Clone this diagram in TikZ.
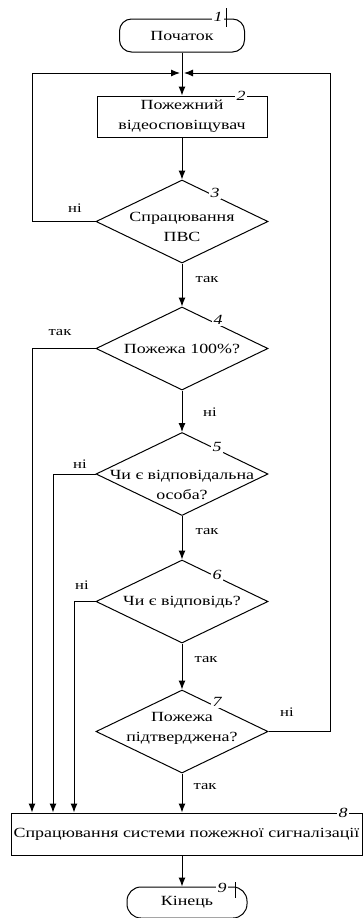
\documentclass[tikz,border=0pt]{standalone}
\usepackage{fontspec}
\setmainfont{Liberation Serif}[FakeStretch=1.28]
\usetikzlibrary{shapes.geometric,arrows.meta}

\begin{document}
\begin{tikzpicture}[x=1pt,y=-1pt,line width=1pt]
	\tikzstyle{terminal} = [draw, rectangle, rounded corners=12pt, inner sep=0pt, font=\fontsize{14}{20}\selectfont]
	\tikzstyle{process} = [draw, rectangle, inner sep=0pt, align=center, font=\fontsize{14}{20}\selectfont]
	\tikzstyle{decision} = [draw, diamond, inner sep=0pt, minimum width=172pt, minimum height=83pt]
	\tikzstyle{dtext} = [inner sep=0pt, align=center, font=\fontsize{14}{20}\selectfont]
	\tikzstyle{flow} = [-{Latex[length=9pt,width=7pt]}]
	\tikzstyle{answer} = [inner sep=0pt, font=\fontsize{13}{16}\selectfont]
	\tikzstyle{num} = [fill=white, inner sep=1.5pt, font=\fontsize{14}{16}\selectfont\itshape]

	\useasboundingbox (0,0) rectangle (363,918);

	\node[terminal, minimum width=125pt, minimum height=33pt] (start) at (182,35.5) {Початок};
	\node[process, minimum width=170pt, minimum height=41pt] (sensor) at (182,116.5) {Пожежний\\відеосповіщувач};
	\node[decision] (pvs) at (182,221.5) {};
	\node[dtext] (pvs text) at (182,227) {Спрацювання\\ПВС};
	\node[decision] (full) at (182,348.5) {};
	\node[dtext] (full text) at (182,349) {Пожежа 100\%?};
	\node[decision] (person) at (182,474) {};
	\node[dtext] (person text) at (182,485) {Чи є відповідальна\\особа?};
	\node[decision] (reply) at (182,601.5) {};
	\node[dtext] (reply text) at (182,602) {Чи є відповідь?};
	\node[decision] (confirm) at (182,731.5) {};
	\node[dtext] (confirm text) at (182,728) {Пожежа\\підтверджена?};
	\node[process, minimum width=351pt, minimum height=42pt] (alarm) at (186.5,834) {Спрацювання системи пожежної сигналізації};
	\node[terminal, rounded corners=14pt, minimum width=120pt, minimum height=31pt] (finish) at (187,902.5) {Кінець};

	\coordinate (join) at (182,73);
	\coordinate (ltop) at (32,73);
	\coordinate (rtop) at (330,73);
	\coordinate (busa) at (32,800);
	\coordinate (busb) at (53,800);
	\coordinate (busc) at (74,800);

	\draw[flow] (start.south) -- (sensor.north);
	\draw[flow] (pvs.west) -| (ltop) -- ([xshift=-2pt]join);
	\draw[flow] (confirm.east) -| (rtop) -- ([xshift=2pt]join);
	\draw[flow] (sensor.south) -- (pvs.north);
	\draw[flow] (pvs.south) -- (full.north);
	\draw[flow] (full.south) -- (person.north);
	\draw[flow] (person.south) -- (reply.north);
	\draw[flow] (reply.south) -- (confirm.north);
	\draw[flow] (confirm.south) -- (confirm.south |- alarm.north);
	\draw[flow] (full.west) -| (busa |- alarm.north);
	\draw[flow] (person.west) -| (busb |- alarm.north);
	\draw[flow] (reply.west) -| (busc |- alarm.north);
	\draw[flow] (alarm.south -| full.south) -- (full.south |- finish.north);

	\node[answer] (a3) at (75,208) {ні};
	\node[answer] (b3) at (207,280) {так};
	\node[answer] (a4) at (60,333) {так};
	\node[answer] (b4) at (210,412) {ні};
	\node[answer] (a5) at (80,464) {ні};
	\node[answer] (b5) at (207,532) {так};
	\node[answer] (a6) at (82,585) {ні};
	\node[answer] (b6) at (206,660) {так};
	\node[answer] (a7) at (287,712) {ні};
	\node[answer] (b7) at (205,787) {так};

	\node[num] (n1) at (218,17) {1};
	\draw (226,8) -- (226,27);
	\node[num] (n2) at (241,96) {2};
	\node[num] (n3) at (215,193) {3};
	\node[num] (n4) at (218,320) {4};
	\node[num] (n5) at (217,447) {5};
	\node[num] (n6) at (217,575) {6};
	\node[num] (n7) at (217,702) {7};
	\node[num] (n8) at (343,813) {8};
	\node[num] (n9) at (222,888) {9};
	\draw (235,882) -- (235,898);
\end{tikzpicture}
\end{document}
